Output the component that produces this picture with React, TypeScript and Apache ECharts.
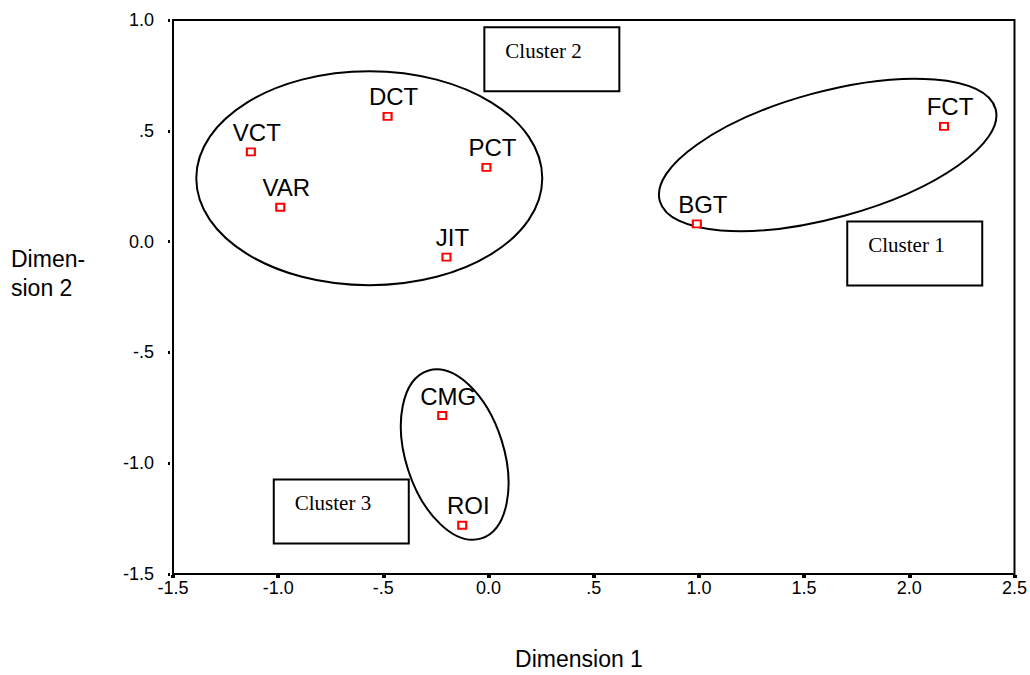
import React, { useEffect, useRef } from "react";
import * as echarts from "echarts";

// ---- data ----
const pointNames = ["VCT", "VAR", "DCT", "PCT", "JIT", "BGT", "FCT", "CMG", "ROI"];
const dimension1 = [-1.13, -0.99, -0.48, -0.01, -0.2, 0.99, 2.165, -0.22, -0.125];
const dimension2 = [0.405, 0.155, 0.565, 0.335, -0.07, 0.08, 0.52, -0.785, -1.28];

const xTickLabels = ["-1.5", "-1.0", "-.5", "0.0", ".5", "1.0", "1.5", "2.0", "2.5"];
const yTickLabels = ["-1.5", "-1.0", "-.5", "0.0", ".5", "1.0"];

// cluster annotations (anchors in data units)
const clusterNames = ["Cluster 1", "Cluster 2", "Cluster 3"];
const boxAnchorX = [1.705, -0.02, -1.021];
const boxAnchorY = [0.091, 0.967, -1.073];
const ellipseCenterX = [1.612, -0.567, -0.161];
const ellipseCenterY = [0.391, 0.286, -0.961];
const ellipseRx = [174, 173, 49];
const ellipseRy = [63, 107, 88];
const ellipseRotDeg = [15.3, 0, 17.7];

const SANS = "Liberation Sans, Arial, sans-serif";
const SERIF = "Liberation Serif, Times New Roman, serif";

export default function App() {
  const ref = useRef<HTMLDivElement>(null);

  useEffect(() => {
    if (!ref.current) return;
    const chart = echarts.init(ref.current, undefined, { renderer: "svg" });
    const option: any = {
      animation: false,
      backgroundColor: "#fff",
      grid: {
        left: 173,
        right: 11,
        top: 20,
        bottom: 101,
        show: true,
        borderColor: "#000",
        borderWidth: 2,
      },
      xAxis: {
        type: "value",
        min: -1.5,
        max: 2.5,
        interval: 0.5,
        offset: 1,
        splitLine: { show: false },
        axisLine: { show: false, onZero: false },
        axisTick: { show: true, length: 3, lineStyle: { color: "#000", width: 4 } },
        axisLabel: {
          color: "#000",
          fontSize: 18,
          fontFamily: SANS,
          margin: 4,
          formatter: (_v: number, i: number) => xTickLabels[i],
        },
      },
      yAxis: {
        type: "value",
        min: -1.5,
        max: 1.0,
        interval: 0.5,
        offset: 3,
        splitLine: { show: false },
        axisLine: { show: false, onZero: false },
        axisTick: { show: true, length: 2, lineStyle: { color: "#000", width: 3 } },
        axisLabel: {
          color: "#000",
          fontSize: 18,
          fontFamily: SANS,
          margin: 16,
          padding: [0, 0, 5, 0],
          formatter: (_v: number, i: number) => yTickLabels[i],
        },
      },
      series: [
        {
          type: "scatter",
          symbol: "rect",
          symbolSize: [8, 7],
          itemStyle: { color: "#fff", borderColor: "#ff0000", borderWidth: 2, opacity: 1 },
          label: {
            show: true,
            position: "top",
            formatter: "{b}",
            color: "#000",
            fontSize: 24,
            fontFamily: SANS,
            distance: 3,
            offset: [6, 0],
          },
          data: pointNames.map((n, i) => ({ name: n, value: [dimension1[i], dimension2[i]] })),
          z: 5,
        },
      ],
    };
    chart.setOption(option);

    const graphics: any[] = [];
    clusterNames.forEach((_n, i) => {
      const c = chart.convertToPixel({ gridIndex: 0 }, [ellipseCenterX[i], ellipseCenterY[i]]) as number[];
      graphics.push({
        type: "ellipse",
        x: c[0],
        y: c[1],
        rotation: (ellipseRotDeg[i] * Math.PI) / 180,
        shape: { cx: 0, cy: 0, rx: ellipseRx[i], ry: ellipseRy[i] },
        style: { fill: "none", stroke: "#000", lineWidth: 2 },
        z: 2,
      });
      const b = chart.convertToPixel({ gridIndex: 0 }, [boxAnchorX[i], boxAnchorY[i]]) as number[];
      graphics.push({
        type: "rect",
        x: b[0],
        y: b[1],
        shape: { x: 0, y: 0, width: 135, height: 64 },
        style: { fill: "#fff", stroke: "#000", lineWidth: 2 },
        z: 3,
      });
      graphics.push({
        type: "text",
        x: b[0] + 21,
        y: b[1] + 24,
        style: {
          text: clusterNames[i],
          fill: "#000",
          font: `21px ${SERIF}`,
          textVerticalAlign: "middle",
          verticalAlign: "middle",
        },
        z: 4,
      });
    });
    graphics.push({
      type: "text",
      x: 579,
      y: 659,
      style: {
        text: "Dimension 1",
        fill: "#000",
        font: `23px ${SANS}`,
        textAlign: "center",
        align: "center",
        textVerticalAlign: "middle",
        verticalAlign: "middle",
      },
    });
    graphics.push({
      type: "text",
      x: 11,
      y: 244,
      style: {
        text: "Dimen-\nsion 2",
        fill: "#000",
        font: `23px ${SANS}`,
        lineHeight: 29,
        textAlign: "left",
        align: "left",
        textVerticalAlign: "top",
        verticalAlign: "top",
      },
    });
    chart.setOption({ graphic: graphics });

    return () => chart.dispose();
  }, []);

  return (
    <div
      ref={ref}
      style={{ position: "absolute", left: 0, top: 0, width: 1030, height: 675 }}
    />
  );
}
